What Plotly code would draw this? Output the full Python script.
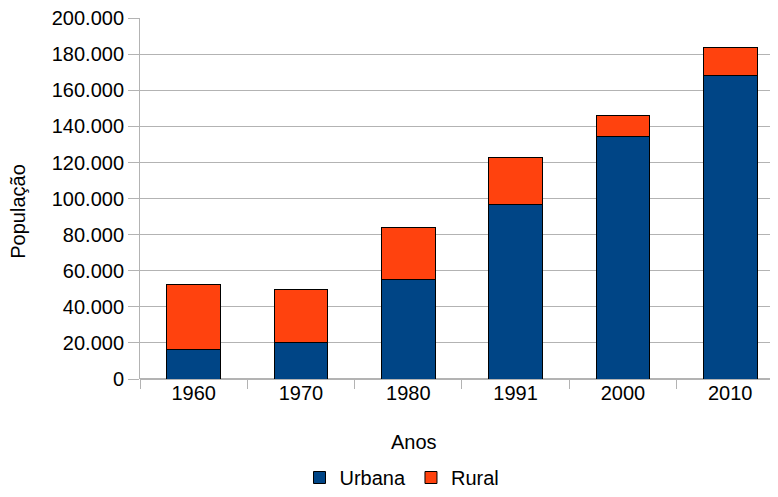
import plotly.graph_objects as go

anos = ["1960", "1970", "1980", "1991", "2000", "2010"]
urbana = [16300, 20200, 55400, 96500, 134700, 168200]
total = [52200, 49900, 83800, 122800, 146300, 183700]
rural = [t - u for t, u in zip(total, urbana)]
y_ticks = [0, 20000, 40000, 60000, 80000, 100000, 120000, 140000, 160000, 180000, 200000]

# page body has an 8px margin; size the figure so it ends at the window edge
OFF = 8
W, H = 778 - OFF, 497 - OFF
L, R, T, B = 140 - OFF, 0, 18 - OFF, 117.5
pw, ph = W - L - R, H - T - B


def px2paper(x, y):
    x -= OFF
    y -= OFF
    return (x - L) / pw, (H - B - y) / ph


fig = go.Figure()
fig.add_trace(go.Bar(x=anos, y=urbana, name="Urbana",
                     marker=dict(color="#004586", line=dict(color="black", width=1))))
fig.add_trace(go.Bar(x=anos, y=rural, name="Rural",
                     marker=dict(color="#ff420e", line=dict(color="black", width=1))))

font = "Liberation Sans, Arial, sans-serif"
FS = 20
ax, ay = px2paper(414, 443)
bx, by = px2paper(18, 212)
fig.update_layout(
    width=W, height=H,
    barmode="stack", bargap=0.5,
    separators=",.",
    plot_bgcolor="white", paper_bgcolor="white",
    margin=dict(l=L, r=R, t=T, b=B, autoexpand=False),
    font=dict(family=font, size=FS, color="black"),
    showlegend=True,
    legend=dict(orientation="h", xref="container", yref="container",
                x=(402 - OFF) / W, xanchor="center", y=-0.012, yanchor="bottom",
                font=dict(size=FS), traceorder="normal"),
    xaxis=dict(type="category", range=[-0.5, 5.445], tickson="boundaries",
               ticks="outside", ticklen=9, tickcolor="#b3b3b3", automargin=False,
               showgrid=False, showline=False, zeroline=False,
               tickfont=dict(size=FS)),
    yaxis=dict(range=[0, 200150], tickvals=y_ticks, tickformat=",d", automargin=False,
               ticks="outside", ticklen=11, tickcolor="#b3b3b3",
               ticklabeloverflow="allow",
               showgrid=True, gridcolor="#b3b3b3", gridwidth=1,
               showline=True, linecolor="#b3b3b3", zeroline=True, zerolinecolor="#b3b3b3",
               tickfont=dict(size=FS)),
    annotations=[
        dict(text="Anos", x=ax, y=ay, xref="paper", yref="paper", showarrow=False,
             xanchor="center", yanchor="middle", font=dict(size=FS)),
        dict(text="População", x=bx, y=by, xref="paper", yref="paper", showarrow=False,
             xanchor="center", yanchor="middle", textangle=-90, font=dict(size=FS)),
    ],
)

fig.write_html("out.html")
